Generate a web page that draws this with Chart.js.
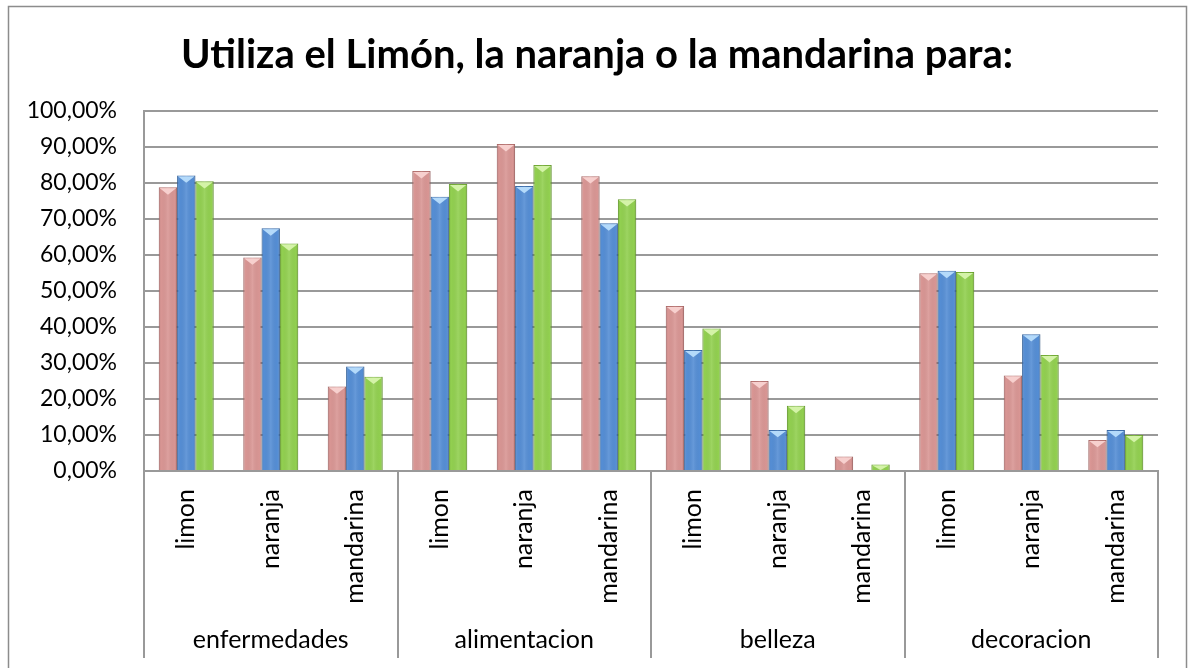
<!DOCTYPE html>
<html>
<head>
<meta charset="utf-8">
<script src="https://cdn.jsdelivr.net/npm/chart.js@4.4.1/dist/chart.umd.min.js"></script>
<style>
  html, body { margin: 0; padding: 0; background: #fff; }
  #wrap { position: relative; width: 1189px; height: 668px; }
</style>
</head>
<body>
<div id="wrap"><canvas id="chart"></canvas></div>
<script>
// data (percent)
const categories = ['limon', 'naranja', 'mandarina', 'limon', 'naranja', 'mandarina',
                    'limon', 'naranja', 'mandarina', 'limon', 'naranja', 'mandarina'];
const groups = ['enfermedades', 'alimentacion', 'belleza', 'decoracion'];
const serie1 = [78.8, 59.3, 23.5, 83.3, 90.8, 81.9, 45.8, 25.0, 4.0, 54.9, 26.5, 8.6];
const serie2 = [82.1, 67.4, 29.0, 76.2, 79.2, 68.8, 33.6, 11.4, 0.0, 55.6, 38.0, 11.4];
const serie3 = [80.5, 63.2, 26.2, 79.7, 85.0, 75.5, 39.6, 18.1, 1.8, 55.3, 32.2, 10.0];
const yTicks = [0, 10, 20, 30, 40, 50, 60, 70, 80, 90, 100];
const titleText = 'Utiliza el Limón, la naranja o la mandarina para:';

const FONT = 'Lato, "Open Sans", sans-serif';
const GRID = '#999999';

// light bevel color on the top of each bar, per dataset
const topColors = ['#f7d0ce', '#b4dafa', '#d4f3a8'];

const framePlugin = {
    id: 'frame',
    beforeDraw(chart) {
        const ctx = chart.ctx;
        ctx.save();
        ctx.fillStyle = '#fff';
        ctx.fillRect(0, 0, chart.width, chart.height);
        ctx.strokeStyle = '#8c8c8c';
        ctx.lineWidth = 1.5;
        ctx.strokeRect(8.5, 6.5, 1178, 700);
        // title, centred over the whole frame
        ctx.fillStyle = '#000';
        ctx.font = 'bold 40px ' + FONT;
        ctx.textAlign = 'center';
        ctx.textBaseline = 'middle';
        ctx.fillText(titleText, 597, 55);
        ctx.restore();
    }
};

const bevelPlugin = {
    id: 'bevel',
    afterDatasetsDraw(chart) {
        const ctx = chart.ctx;
        ctx.save();
        chart.data.datasets.forEach((ds, di) => {
            const meta = chart.getDatasetMeta(di);
            meta.data.forEach(bar => {
                const p = bar.getProps(['x', 'y', 'base', 'width'], true);
                const h = p.base - p.y;
                if (h < 1) return;
                const l = p.x - p.width / 2;
                const r = p.x + p.width / 2;
                // side shading
                const g = ctx.createLinearGradient(l, 0, r, 0);
                g.addColorStop(0, 'rgba(0,0,0,0.12)');
                g.addColorStop(0.12, 'rgba(0,0,0,0)');
                g.addColorStop(0.5, 'rgba(255,255,255,0.1)');
                g.addColorStop(0.88, 'rgba(0,0,0,0)');
                g.addColorStop(1, 'rgba(0,0,0,0.16)');
                ctx.fillStyle = g;
                ctx.fillRect(l, p.y, p.width, h);
                // top bevel triangle
                const th = Math.min(p.width * 0.4, h);
                ctx.fillStyle = topColors[di];
                ctx.beginPath();
                ctx.moveTo(l + 1, p.y + 1);
                ctx.lineTo(r - 1, p.y + 1);
                ctx.lineTo(p.x, p.y + th);
                ctx.closePath();
                ctx.fill();
            });
        });
        ctx.restore();
    }
};

const groupAxisPlugin = {
    id: 'groupAxis',
    afterDraw(chart) {
        const ctx = chart.ctx;
        const x = chart.scales.x;
        const per = categories.length / groups.length;
        ctx.save();
        ctx.strokeStyle = GRID;
        ctx.lineWidth = 2;
        for (let i = 0; i <= groups.length; i++) {
            const px = Math.round(x.getPixelForValue(i * per - 0.5));
            ctx.beginPath();
            ctx.moveTo(px, x.top);
            ctx.lineTo(px, 658);
            ctx.stroke();
        }
        ctx.fillStyle = '#000';
        ctx.font = '25px ' + FONT;
        ctx.textAlign = 'center';
        ctx.textBaseline = 'middle';
        groups.forEach((name, i) => {
            const cx = x.getPixelForValue(i * per + (per - 1) / 2);
            ctx.fillText(name, cx, 640);
        });
        ctx.restore();
    }
};

const ctx = document.getElementById('chart');
new Chart(ctx, {
    type: 'bar',
    data: {
        labels: categories,
        datasets: [
            { label: 'Serie1', data: serie1, backgroundColor: '#d99694', borderColor: '#b87472', borderWidth: 1 },
            { label: 'Serie2', data: serie2, backgroundColor: '#558ed5', borderColor: '#3c6fae', borderWidth: 1 },
            { label: 'Serie3', data: serie3, backgroundColor: '#92d050', borderColor: '#74ad36', borderWidth: 1 }
        ]
    },
    options: {
        responsive: true,
        maintainAspectRatio: false,
        animation: false,
        events: [],
        categoryPercentage: 0.65,
        barPercentage: 1.0,
        layout: { padding: { left: 0, right: 31, top: 111, bottom: 0 } },
        plugins: {
            legend: { display: false },
            tooltip: { enabled: false },
            title: { display: false }
        },
        scales: {
            x: {
                grid: { display: false, drawTicks: false },
                border: { display: true, color: GRID, width: 2 },
                ticks: {
                    color: '#000',
                    font: { family: FONT, size: 25 },
                    minRotation: 90,
                    maxRotation: 90,
                    autoSkip: false,
                    padding: 18
                },
                afterFit(scale) { scale.height = 197; }
            },
            y: {
                min: 0,
                max: 100,
                afterBuildTicks(scale) { scale.ticks = yTicks.map(v => ({ value: v })); },
                grid: { color: GRID, lineWidth: 2, drawTicks: false },
                border: { display: true, color: GRID, width: 2 },
                ticks: {
                    color: '#000',
                    font: { family: FONT, size: 23 },
                    padding: 27,
                    callback: v => v.toFixed(2).replace('.', ',') + '%'
                },
                afterFit(scale) { scale.width = 144; }
            }
        }
    },
    plugins: [framePlugin, bevelPlugin, groupAxisPlugin]
});
</script>
</body>
</html>
